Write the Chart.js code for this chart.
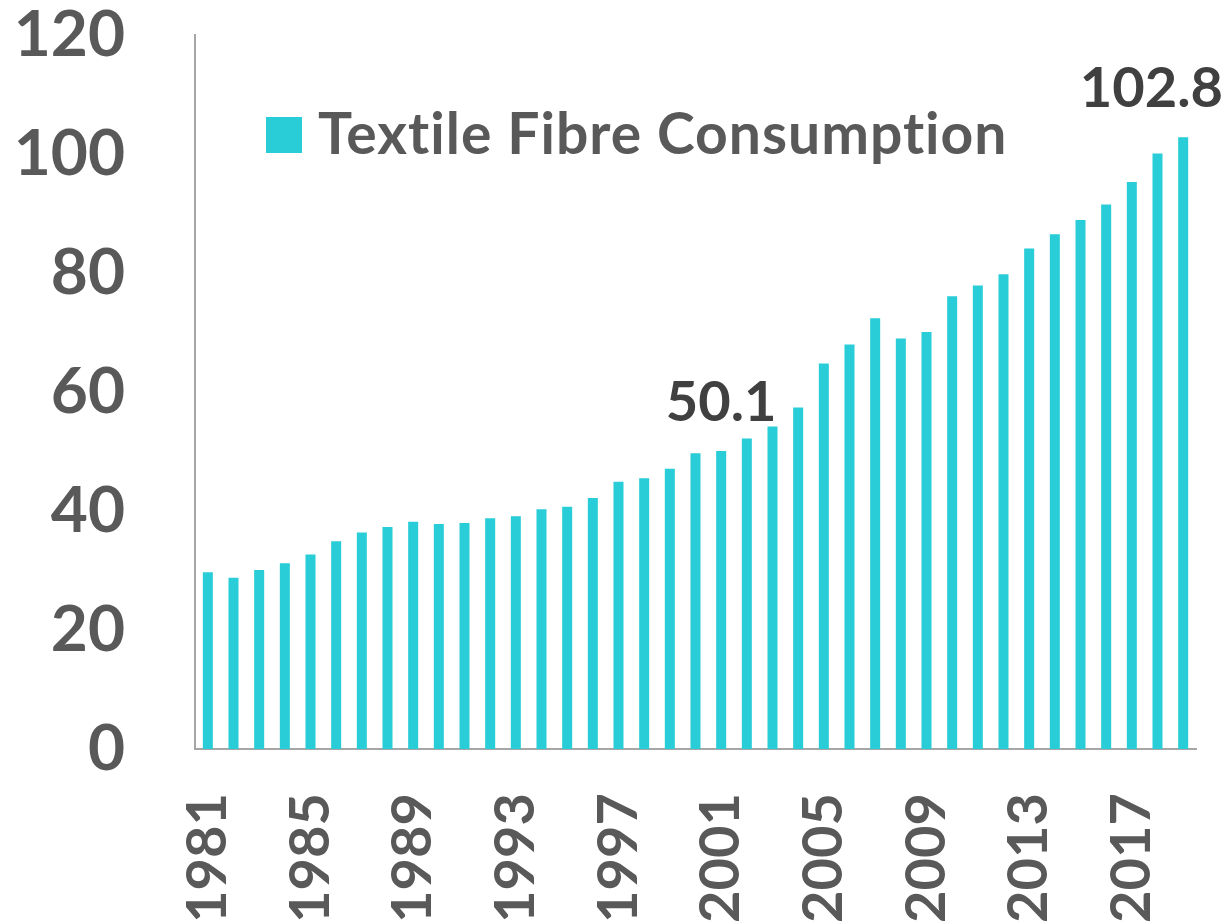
<!DOCTYPE html>
<html>
<head>
<meta charset="utf-8">
<script src="https://cdn.jsdelivr.net/npm/chart.js@4/dist/chart.umd.min.js"></script>
<style>
  html, body { margin: 0; padding: 0; background: #ffffff; }
  #wrap { width: 1229px; height: 921px; position: relative; }
</style>
</head>
<body>
<div id="wrap"><canvas id="c" width="1229" height="921"></canvas></div>
<script>
const years = ['1981','1982','1983','1984','1985','1986','1987','1988','1989','1990',
  '1991','1992','1993','1994','1995','1996','1997','1998','1999','2000',
  '2001','2002','2003','2004','2005','2006','2007','2008','2009','2010',
  '2011','2012','2013','2014','2015','2016','2017','2018','2019'];
const consumption = [29.7, 28.8, 30.1, 31.2, 32.7, 34.9, 36.4, 37.3, 38.2, 37.8,
  38.0, 38.8, 39.1, 40.3, 40.7, 42.2, 44.9, 45.5, 47.1, 49.7,
  50.1, 52.2, 54.2, 57.4, 64.8, 68.0, 72.4, 69.0, 70.1, 76.1,
  77.9, 79.8, 84.1, 86.5, 88.9, 91.5, 95.3, 100.1, 102.8];
const labelledYears = ['2001', '2019'];
const seriesName = 'Textile Fibre Consumption';
const yTicks = [0, 20, 40, 60, 80, 100, 120];

const BAR = '#28CDD7';
const TXT = '#595959';
const FONT = 'Lato, "Open Sans", sans-serif';

function zeroPad(scale) {
  scale.paddingTop = 0; scale.paddingBottom = 0;
  scale.paddingLeft = 0; scale.paddingRight = 0;
}

const overlay = {
  id: 'overlay',
  afterDatasetsDraw(chart) {
    const ctx = chart.ctx;
    const meta = chart.getDatasetMeta(0);
    ctx.save();
    // data labels
    ctx.font = 'bold 56px ' + FONT;
    ctx.fillStyle = '#404040';
    ctx.textAlign = 'center';
    ctx.textBaseline = 'alphabetic';
    labelledYears.forEach(y => {
      const i = years.indexOf(y);
      const el = meta.data[i];
      const txt = consumption[i].toFixed(1);
      const w = ctx.measureText(txt).width;
      const x = Math.min(el.x, chart.width - 6 - w / 2);
      ctx.fillText(txt, x, el.y - 30);
    });
    // legend inside plot area
    const sx = chart.chartArea.left + 71;
    const sy = chart.chartArea.top + 82;
    ctx.fillStyle = BAR;
    ctx.fillRect(sx, sy, 36, 36);
    ctx.fillStyle = TXT;
    ctx.textAlign = 'left';
    ctx.textBaseline = 'middle';
    ctx.font = 'bold 57px ' + FONT;
    if ('letterSpacing' in ctx) ctx.letterSpacing = '1px';
    ctx.fillText(chart.data.datasets[0].label, sx + 52, sy + 19);
    ctx.restore();
  }
};

new Chart(document.getElementById('c'), {
  type: 'bar',
  data: {
    labels: years,
    datasets: [{
      label: seriesName,
      data: consumption,
      backgroundColor: BAR,
      borderWidth: 0,
      categoryPercentage: 1.0,
      barPercentage: 0.39
    }]
  },
  options: {
    responsive: false,
    animation: false,
    devicePixelRatio: 1,
    layout: { padding: { top: 35, right: 33, bottom: 0, left: 0 } },
    plugins: {
      legend: { display: false },
      tooltip: { enabled: false },
      title: { display: false }
    },
    scales: {
      x: {
        grid: { display: false, drawTicks: false },
        border: { display: true, color: '#A6A6A6', width: 2 },
        ticks: {
          autoSkip: false,
          maxRotation: 90,
          minRotation: 90,
          padding: 44,
          color: TXT,
          font: { family: FONT, size: 56, weight: 'bold' },
          callback: function(v, i) { return i % 4 === 0 ? years[i] : ''; }
        },
        afterFit(scale) { scale.height = 172; zeroPad(scale); }
      },
      y: {
        min: 0,
        max: 120,
        afterBuildTicks(scale) { scale.ticks = yTicks.map(v => ({ value: v })); },
        grid: { display: false, drawTicks: false },
        border: { display: true, color: '#A6A6A6', width: 2 },
        ticks: {
          padding: 70,
          color: TXT,
          font: { family: FONT, size: 64, weight: 'bold', lineHeight: 1 }
        },
        afterFit(scale) { scale.width = 195; zeroPad(scale); }
      }
    }
  },
  plugins: [overlay]
});
</script>
</body>
</html>
